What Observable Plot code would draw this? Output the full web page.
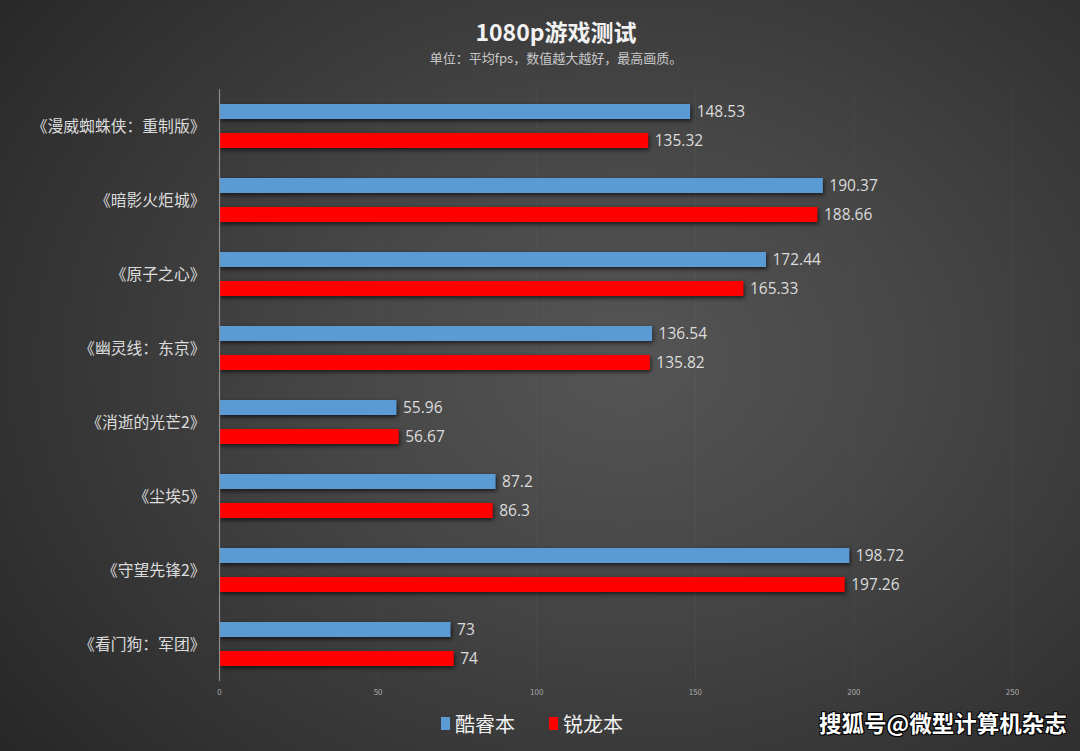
<!DOCTYPE html>
<html><head><meta charset="utf-8">
<script src="https://cdn.jsdelivr.net/npm/d3@7"></script>
<script src="https://cdn.jsdelivr.net/npm/@observablehq/plot@0.6"></script>
<style>
html,body{margin:0;padding:0;}
#wrap{position:relative;width:1080px;height:751px;overflow:hidden;
 background:radial-gradient(ellipse 75% 85% at 58% 48%, #555555 0%, #474747 35%, #333333 75%, #262626 100%);
 font-family:"Noto Sans CJK SC","Noto Sans",sans-serif;}
#title{position:absolute;top:20px;left:0;width:1112px;text-align:center;color:#f2f2f2;font-size:23px;line-height:23px;font-weight:bold;}
#sub{position:absolute;top:51px;left:0;width:1112px;text-align:center;color:#c8c8c8;font-size:13px;line-height:13px;}
#chart{position:absolute;top:70px;left:0;}
#legend{position:absolute;top:709px;left:441px;color:#f0f0f0;font-size:20px;display:flex;align-items:center;}
#legend span.sw{display:inline-block;width:9px;height:13px;margin-right:5px;}
#legend .item{display:flex;align-items:center;margin-right:34px;}
#wm{position:absolute;top:706px;left:819px;color:#fff;font-size:22.5px;font-weight:bold;letter-spacing:0px;
 text-shadow:1px 1px 0 #000,-1px -1px 0 #000,1px -1px 0 #000,-1px 1px 0 #000;}
g[aria-label="bar"] rect{filter:drop-shadow(1px 2px 2px rgba(0,0,0,0.65));}
</style></head>
<body>
<div id="wrap">
 <div id="title">1080p游戏测试</div>
 <div id="sub">单位：平均fps，数值越大越好，最高画质。</div>
 <div id="chart"></div>
 <div id="legend"></div>
 <div id="wm">搜狐号@微型计算机杂志</div>
</div>
<script>
const games = ["《漫威蜘蛛侠：重制版》","《暗影火炬城》","《原子之心》","《幽灵线：东京》","《消逝的光芒2》","《尘埃5》","《守望先锋2》","《看门狗：军团》"];
const series = ["酷睿本","锐龙本"];
const intelValues = [148.53,190.37,172.44,136.54,55.96,87.2,198.72,73];
const amdValues = [135.32,188.66,165.33,135.82,56.67,86.3,197.26,74];
const intelLabels = ["148.53","190.37","172.44","136.54","55.96","87.2","198.72","73"];
const amdLabels = ["135.32","188.66","165.33","135.82","56.67","86.3","197.26","74"];
const xTicks = [0,50,100,150,200,250];
const colors = ["#5b9bd5","#ff0000"];

const data = [];
games.forEach((g,i)=>{
  data.push({game:g, series:series[0], value:intelValues[i], label:intelLabels[i]});
  data.push({game:g, series:series[1], value:amdValues[i], label:amdLabels[i]});
});

const chart = Plot.plot({
  width:1080, height:640,
  marginLeft:219, marginRight:68, marginTop:18, marginBottom:28,
  style:{background:"transparent", color:"#d9d9d9", fontFamily:"'Noto Sans CJK SC','Noto Sans',sans-serif"},
  x:{domain:[0,250], ticks:xTicks, label:null},
  fy:{domain:games, padding:0, label:null},
  y:{domain:series, padding:0.5, axis:null},
  color:{domain:series, range:colors},
  marks:[
    Plot.gridX(xTicks.filter(d=>d>0), {stroke:"#8a8a8a", strokeOpacity:0.1, facet:"exclude"}),
    Plot.barX(data, {fy:"game", y:"series", x:"value", fill:"series"}),
    Plot.text(data, {fy:"game", y:"series", x:"value", text:"label", textAnchor:"start", dx:6, fill:"#dcdcdc", fontSize:15.5, fontFamily:"'Open Sans','Noto Sans',sans-serif"}),
    Plot.ruleX([0], {stroke:"#8c8c8c", strokeWidth:1.2}),
    Plot.axisX({ticks:xTicks, tickSize:0, tickPadding:8, fontSize:8, fill:"#a8a8a8", label:null, anchor:"bottom"}),
    Plot.axisFy({anchor:"left", tickSize:0, tickPadding:14, fontSize:15.8, fill:"#dcdcdc", label:null})
  ]
});
document.getElementById("chart").appendChild(chart);

const leg = document.getElementById("legend");
series.forEach((s,i)=>{
  const it = document.createElement("div"); it.className="item";
  const sw = document.createElement("span"); sw.className="sw"; sw.style.background=colors[i];
  const t = document.createElement("span"); t.textContent=s;
  it.appendChild(sw); it.appendChild(t); leg.appendChild(it);
});
</script>
</body></html>
